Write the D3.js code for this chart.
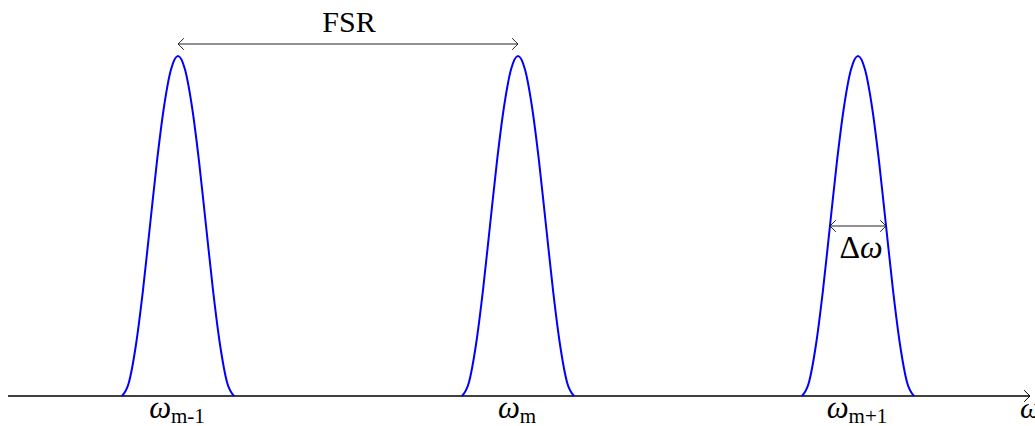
<!DOCTYPE html>
<html>
<head>
<meta charset="utf-8">
<script src="https://cdn.jsdelivr.net/npm/d3@7"></script>
<style>
  html, body { margin: 0; padding: 0; background: #fff; }
  svg { display: block; }
</style>
</head>
<body>
<svg id="chart" width="1035" height="426"></svg>
<script>
// Resonance orders: position on the frequency axis (in FSR units) and peak level
const modeOrders = ["m-1", "m", "m+1"];
const modeCenters = [-1, 0, 1];
const modeHeights = [1, 1, 1];

// Shape of one resonance line: offset from centre (fraction of half base width) and relative level
const profileOffset = [-1, -0.875, -0.75, -0.625, -0.5, -0.375, -0.25, -0.125, 0,
                        0.125, 0.25, 0.375, 0.5, 0.625, 0.75, 0.875, 1];
const profileLevel  = [0, 0.04, 0.15, 0.31, 0.5, 0.69, 0.85, 0.96, 1,
                       0.96, 0.85, 0.69, 0.5, 0.31, 0.15, 0.04, 0];
const halfBase = 0.165;      // half of the base width of a line, in FSR units
const linewidthFWHM = 0.165; // Δω, full width at half maximum

const SERIF = '"Liberation Serif"';

const svg = d3.select("#chart");

const x = d3.scaleLinear().domain([-1.5, 1.5]).range([8, 1028]);
const y = d3.scaleLinear().domain([0, 1]).range([396, 56]);

// tikz-style open arrow tip at (px,py) pointing in direction dir (+1 right, -1 left)
function tip(g, px, py, dir, color, sw) {
  const l = 5.5, h = 5.5;
  const p = d3.path();
  p.moveTo(px - dir * l, py - h);
  p.quadraticCurveTo(px - dir * 1.5, py - 1.2, px, py);
  p.quadraticCurveTo(px - dir * 1.5, py + 1.2, px - dir * l, py + h);
  g.append("path").attr("d", p.toString())
    .attr("fill", "none").attr("stroke", color).attr("stroke-width", sw)
    .attr("stroke-linecap", "round");
}

// frequency axis
const axis = svg.append("g");
axis.append("line")
  .attr("x1", x(-1.5)).attr("x2", x(1.5) + 2)
  .attr("y1", y(0)).attr("y2", y(0))
  .attr("stroke", "#000").attr("stroke-width", 1.3);
tip(axis, x(1.5) + 2, y(0), 1, "#000", 1);
axis.append("text")
  .attr("x", x(1.5) - 8).attr("y", y(0) + 22)
  .style("font-family", SERIF)
  .style("font-style", "italic").style("font-size", "30px")
  .text("ω");

// resonance lines
const line = d3.line()
  .x(d => x(d[0])).y(d => y(d[1]))
  .curve(d3.curveMonotoneX);

const peaks = modeCenters.map((c, i) =>
  profileOffset.map((o, k) => [c + o * halfBase, profileLevel[k] * modeHeights[i]]));

svg.append("g").selectAll("path")
  .data(peaks)
  .join("path")
  .attr("d", line)
  .attr("fill", "none")
  .attr("stroke", "#0000ff")
  .attr("stroke-width", 2)
  .attr("stroke-linejoin", "round");

// order labels under each line
const labels = svg.append("g").selectAll("text")
  .data(modeOrders)
  .join("text")
  .attr("x", (d, i) => x(modeCenters[i]) - 1)
  .attr("y", y(0) + 22)
  .style("font-family", SERIF)
  .attr("text-anchor", "middle");
labels.append("tspan")
  .style("font-family", SERIF)
  .style("font-style", "italic").style("font-size", "31px")
  .text("ω");
labels.append("tspan")
  .style("font-family", SERIF)
  .style("font-size", "21px").attr("dy", 5)
  .text(d => d);

// free spectral range between two neighbouring orders
const fsr = svg.append("g");
const fsrY = y(1) - 12;
fsr.append("line")
  .attr("x1", x(modeCenters[0])).attr("x2", x(modeCenters[1]))
  .attr("y1", fsrY).attr("y2", fsrY)
  .attr("stroke", "#222").attr("stroke-width", 1);
tip(fsr, x(modeCenters[0]), fsrY, -1, "#222", 1);
tip(fsr, x(modeCenters[1]), fsrY, 1, "#222", 1);
fsr.append("text")
  .attr("x", (x(modeCenters[0]) + x(modeCenters[1])) / 2 + 1)
  .attr("y", 32)
  .attr("text-anchor", "middle")
  .style("font-family", SERIF)
  .style("font-size", "30px")
  .text("FSR");

// linewidth at half maximum of the last order
const fw = svg.append("g");
const c3 = modeCenters[2];
const hmY = y(0.5 * modeHeights[2]);
fw.append("line")
  .attr("x1", x(c3 - linewidthFWHM / 2)).attr("x2", x(c3 + linewidthFWHM / 2))
  .attr("y1", hmY).attr("y2", hmY)
  .attr("stroke", "#222").attr("stroke-width", 1);
tip(fw, x(c3 - linewidthFWHM / 2), hmY, -1, "#222", 1);
tip(fw, x(c3 + linewidthFWHM / 2), hmY, 1, "#222", 1);
const dl = fw.append("text")
  .attr("x", x(c3) + 3)
  .attr("y", hmY + 32)
  .attr("text-anchor", "middle")
  .style("font-family", SERIF)
  .style("font-size", "32px");
dl.append("tspan").style("font-family", SERIF).text("Δ");
dl.append("tspan").style("font-family", SERIF).style("font-style", "italic").text("ω");
</script>
</body>
</html>
